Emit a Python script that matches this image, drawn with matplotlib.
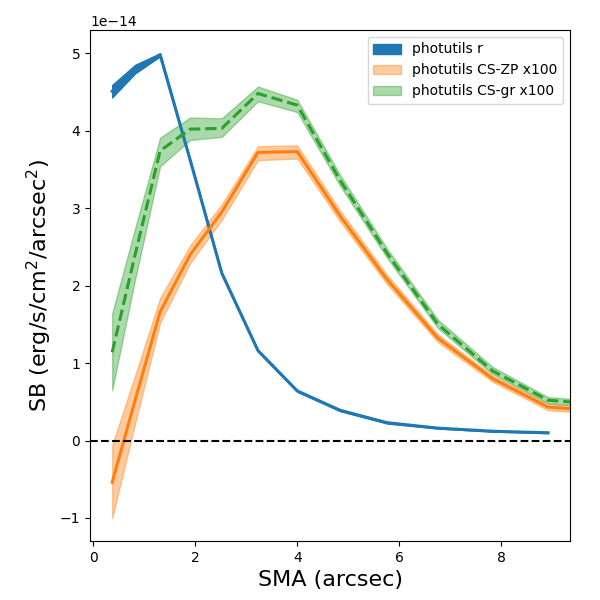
import numpy as np
import matplotlib
matplotlib.use("Agg")
import matplotlib.pyplot as plt

# SMA grid (arcsec)
sma_r = [0.37, 0.82, 1.31, 1.90, 2.52, 3.23, 4.00, 4.84, 5.76, 6.76, 7.83, 8.92]
sma_cs = [0.37, 0.82, 1.31, 1.90, 2.52, 3.23, 4.00, 4.84, 5.76, 6.76, 7.83, 8.92, 10.1]

# photutils r  (units of 1e-14)
sb_r = [4.51, 4.79, 4.98, 3.62, 2.16, 1.16, 0.64, 0.39, 0.23, 0.16, 0.12, 0.10]
sb_r_lo = [4.43, 4.74, 4.96, 3.61, 2.15, 1.15, 0.63, 0.38, 0.22, 0.155, 0.115, 0.095]
sb_r_hi = [4.59, 4.85, 5.00, 3.63, 2.17, 1.17, 0.65, 0.40, 0.24, 0.165, 0.125, 0.105]

# photutils CS-ZP x100
sb_zp = [-0.54, 0.52, 1.66, 2.40, 2.95, 3.72, 3.73, 2.90, 2.08, 1.32, 0.80, 0.43, 0.38]
sb_zp_lo = [-1.00, 0.22, 1.52, 2.29, 2.85, 3.62, 3.64, 2.83, 2.02, 1.27, 0.76, 0.39, 0.34]
sb_zp_hi = [-0.06, 0.84, 1.84, 2.52, 3.05, 3.80, 3.81, 2.97, 2.14, 1.37, 0.84, 0.47, 0.42]

# photutils CS-gr x100
sb_gr = [1.14, 2.40, 3.74, 4.02, 4.03, 4.48, 4.33, 3.36, 2.42, 1.50, 0.90, 0.52, 0.46]
sb_gr_lo = [0.65, 2.08, 3.54, 3.88, 3.92, 4.38, 4.24, 3.29, 2.36, 1.45, 0.86, 0.48, 0.42]
sb_gr_hi = [1.64, 2.74, 3.91, 4.17, 4.16, 4.57, 4.40, 3.43, 2.48, 1.56, 0.95, 0.56, 0.50]

scale = 1e-14

fig = plt.figure(figsize=(6, 6), dpi=100)
ax = fig.add_axes([0.15, 0.098, 0.80, 0.852])

ax.fill_between(sma_r, np.array(sb_r_lo) * scale, np.array(sb_r_hi) * scale,
                color="C0", alpha=1.0, label="photutils r")
ax.plot(sma_r, np.array(sb_r) * scale, color="C0", lw=2.2)

ax.fill_between(sma_cs, np.array(sb_zp_lo) * scale, np.array(sb_zp_hi) * scale,
                color="C1", alpha=0.4, label="photutils CS-ZP x100")
ax.plot(sma_cs, np.array(sb_zp) * scale, color="C1", lw=2.2)

ax.fill_between(sma_cs, np.array(sb_gr_lo) * scale, np.array(sb_gr_hi) * scale,
                color="C2", alpha=0.4, label="photutils CS-gr x100")
ax.plot(sma_cs, np.array(sb_gr) * scale, color="C2", lw=2.2, ls="--")

ax.axhline(0, color="k", ls="--", lw=1.5)

ax.set_xlim(-0.065, 9.35)
ax.set_xlabel("SMA (arcsec)", fontsize=16)
ax.set_ylabel(r"SB (erg/s/cm$^2$/arcsec$^2$)", fontsize=16)
ax.legend(loc="upper right")

plt.savefig("out.png", dpi=100)
